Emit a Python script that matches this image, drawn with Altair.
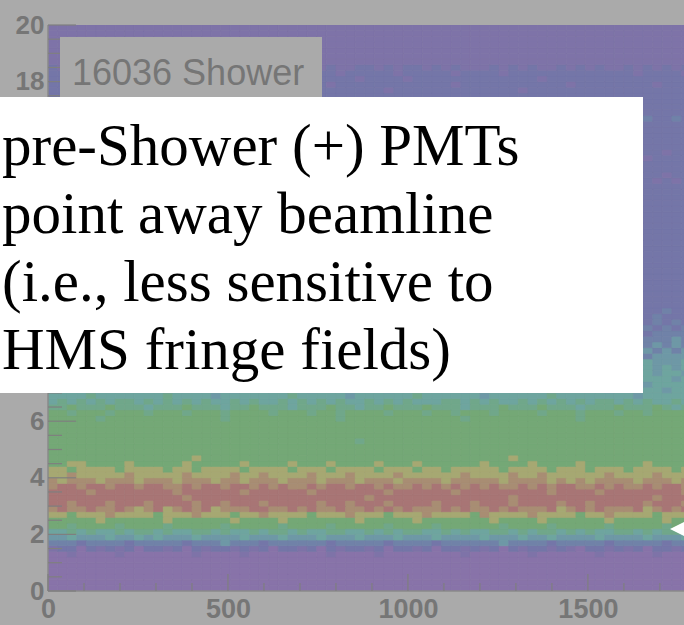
import altair as alt
import pandas as pd

# Histogram binning (ROOT-style 2D histogram: 75 x-bins over 0-2000, 0.2-wide y-bins)
X_BIN = 2000 / 75
Y_BIN = 0.2
X_MAX = 1767
Y_MAX = 20
N_COLS = 67

# Colour for each content level (washed-out rainbow palette, low -> high)
PALETTE = ['#8873a9', '#7e73a8', '#7476a8', '#7082a8', '#6e98a6', '#6ea59f',
           '#70a78a', '#74a876', '#a6a872', '#a88d73', '#a87575']


def flat(ch):
    return ch * N_COLS


# Level per cell, one string per y-bin, bottom (y=0) first; 'a' = 10
ROWS = [
    flat('0'), flat('0'), flat('0'), flat('0'), flat('0'), flat('0'),
    "0010000100 0000010000 1000000001 0000100000 0001000000 1000000100 0001000",
    "1220212120 2212021221 2120221202 1221202212 0221212021 2212102212 1202212",
    "3332333323 3333233343 3323333332 3333323333 2333333433 3323333323 3333233",
    "4454445445 4544454444 5444544454 4454445444 5444454445 4454444544 4454445",
    "5565655656 6565566565 5656656556 6556565665 5656556656 5665656556 6565665",
    "7767777677 7767777767 7777677776 7777767777 6777777677 7767777767 7777677",
    "7777787777 7787777778 7777877777 7787777787 7777778777 7877777787 7777877",
    "8878889888 8788898887 8898888788 8988878889 8888798888 9888878898 8887888",
    "9a99a99a98 9a89a9a899 9aa99a9a99 a99a9a9a99 9a9a99a9a9 99a89a9a99 9a89a9a",
    "aa9aaa9aaa 9aaaa9aa9a aa9aaaaa9a a9aaa9aaaa 9aaa9aaa9a aaa9aa9aaa aa9aaa9",
    "aaaaaaaaaa aaaa9aaaaa aaaaaaaaaa aaa9aaaaaa aaaaaaaa9a aaaaaaaaaa aaa9aaa",
    "aaaa9aaaaa aaa9aaaaaa 9aaaaaa9aa aaaaa9aaaa aa9aaaaaaa aa9aaaa9aa aaaaaa9",
    "9aa9aa9aa9 aa99a9aa9a a9a9a99a9a a9aa9a99a9 a9a9a9a99a 9a9aa99a9a 99a9aa9",
    "9899989998 9998999899 8999899989 9989998999 9899999899 9989898999 9899989",
    "8898888898 8888988889 8898888988 8988889888 8889888898 8988888898 8889888",
    "8878888788 8878878888 7888878887 8888788878 8788888788 8878887888 7888878",
    "7788777787 7777877777 8777787778 7777877787 7777787777 8777787777 7787777",
    "7777777777 7777787777 7777777777 7777777777 7777777787 7777777777 7777777",
    flat('7'), flat('7'),
    "7777777777 7777777777 7777777777 7767777777 7777777777 7777777777 7777777",
    flat('7'), flat('7'), flat('7'),
    "7777767777 7777777767 7777777777 6777777777 7776777777 7777767777 7777777",
    "7767776777 6777677767 7776777677 6777767776 7767776777 7677767776 7767777",
    "6676667666 5666766656 6766656667 6656676667 6665666766 6766656667 6667656",
    "5656565665 6565656556 5655656565 6556565655 5665656556 5656565665 6565565",
    "5555655555 5565555455 5555565555 5455555565 5555545555 5565555555 5455555",
    "5555455555 5545555554 5555555455 5555545555 5554555555 5545555545 5555455",
    "5545555545 5555455555 4555555545 5554555545 5555545555 5555455554 5545555",
    "5555545554 5545555455 5555454555 5545555554 5545555455 5555545455 5455545",
    "5455545545 4555455545 5545554554 5455455545 5455545554 5545455545 4554554",
    "4545454554 5454545445 4545545454 5445454545 4554545454 4545454554 5454545",
    "4544544454 4454445444 5444454445 4445444544 4454444544 4544454445 4454445",
    "4443444434 4444344443 4434444444 3444434444 4443444434 4443444443 4434444",
    "4434434443 4343443434 4434343443 4343434434 4343443434 4434434344 3443434",
    "3434343433 4343433434 3343434343 3434334343 4334343434 3434334343 4334343",
    "3343333433 3343333343 3334333343 3333433334 3343333433 3334333433 3433343",
    "3333323333 2333333233 3332333333 2333323333 3333233332 3333333233 3323333",
    "3323332333 3233323332 3323233323 3323332332 3233323323 3332332333 2332323",
    "2323232322 3232232323 2322323232 2323223232 3223232322 3232322323 2323232",
    "2232223222 2322232223 2223222322 2232222322 2322232222 3222322223 2223222",
    "2222322222 2222223222 2222222322 2222222223 2222232222 2222222322 2222322",
    flat('2'), flat('2'), flat('2'), flat('2'), flat('2'),
    flat('2'), flat('2'), flat('2'), flat('2'), flat('2'),
    flat('2'), flat('2'), flat('2'), flat('2'), flat('2'),
    flat('2'), flat('2'), flat('2'), flat('2'), flat('2'),
    flat('2'), flat('2'),
    "2222222222 2222222222 2222222222 2222222222 2222222222 2222222222 2221212",
    "2222222222 2222222222 2222222222 2222222222 2222222222 2222222222 2222122",
    "2222222222 2222222222 2222222222 2222222222 2222222222 2222222122 2222222",
    flat('2'),
    "2222222222 2222222222 2222222222 2222222222 2222222222 2222222222 2212222",
    "2222222222 2222222222 2222222222 2222222222 2222222222 2222222222 2122122",
    flat('2'), flat('2'), flat('2'), flat('2'), flat('2'),
    "2222222222 2222222222 2222222222 2222222222 2222222222 2222222222 2232232",
    flat('2'), flat('2'), flat('2'),
    "2222222222 2222222222 2222222222 2222222222 2222222222 2222222222 2222222",
    "2222222222 2222222222 2222222222 2222212222 2222222221 2222222222 2222222",
    "2222222222 2222222222 2222222221 2222222222 2212222222 2222122222 2221222",
    "2222222222 2222222222 2222222222 2212222122 2222222222 2122222222 2222222",
    "2222222212 2222222222 2222222222 1222221222 2212222122 2222222222 2122221",
    "2121212122 1212121212 2121211212 1122121221 2121112121 2112121211 2121212",
    flat('1'), flat('1'), flat('1'), flat('1'), flat('1'), flat('1'), flat('1'),
]

# Axis ticks; the labels from 8 to 16 sit under the note panel
Y_TICKS = [0, 2, 4, 6, 8, 10, 12, 14, 16, 18, 20]
Y_LABELS = [0, 2, 4, 6, 18, 20]
Y_MINOR = [v / 2 for v in range(1, 40) if v % 4 != 0]
X_LABELS = [0, 500, 1000, 1500]
X_MINOR = [v for v in range(100, 1800, 100) if v % 500 != 0]

TITLE = "16036  Shower"
NOTE = ["pre-Shower (+) PMTs",
        "point away beamline",
        "(i.e., less sensitive to",
        "HMS fringe fields)"]

W, H = 636, 566
GREY_TEXT = '#767676'
TICK = '#7f7f7f'
AXIS_LINE = '#8a8a8a'

cells = []
for r, row in enumerate(ROWS):
    row = row.replace(" ", "")
    for c, ch in enumerate(row):
        cells.append({
            "x0": c * X_BIN, "x1": (c + 1) * X_BIN,
            "y0": r * Y_BIN, "y1": (r + 1) * Y_BIN,
            "level": int(ch, 16),
        })
cells = pd.DataFrame(cells)

xs = alt.Scale(domain=[0, X_MAX], nice=False, zero=False)
ys = alt.Scale(domain=[0, Y_MAX], nice=False, zero=False)
level_scale = alt.Scale(domain=list(range(len(PALETTE))), range=PALETTE)

x_axis = alt.Axis(values=X_LABELS, title=None, grid=False, ticks=False, domain=False,
                  labelFontSize=27, labelFont="Liberation Sans", labelFontWeight="bold",
                  labelColor=GREY_TEXT, labelPadding=5, labelFlush=False, format="d")
y_axis = alt.Axis(values=Y_LABELS, title=None, grid=False, ticks=False, domain=False,
                  labelFontSize=26, labelFont="Liberation Sans", labelFontWeight="bold",
                  labelColor=GREY_TEXT, labelPadding=4, labelFlush=False, format="d")

heat = alt.Chart(cells).mark_rect(clip=True, strokeWidth=0.6).encode(
    x=alt.X("x0:Q", scale=xs, axis=x_axis),
    x2="x1:Q",
    y=alt.Y("y0:Q", scale=ys, axis=y_axis),
    y2="y1:Q",
    color=alt.Color("level:O", scale=level_scale, legend=None),
    stroke=alt.Stroke("level:O", scale=level_scale, legend=None),
)

one = pd.DataFrame({"k": [0]})

# Frame lines along the two axes
axis_lines = alt.layer(
    alt.Chart(one).mark_rule(color=AXIS_LINE, strokeWidth=1.5).encode(
        x=alt.value(0), x2=alt.value(W), y=alt.value(H)),
    alt.Chart(one).mark_rule(color=AXIS_LINE, strokeWidth=1.5).encode(
        x=alt.value(0), y=alt.value(0), y2=alt.value(H)),
)

# Inward tick marks, ROOT style
y_major = alt.Chart(pd.DataFrame({"v": Y_TICKS})).mark_rule(color=TICK, strokeWidth=1.2).encode(
    y=alt.Y("v:Q", scale=ys), x=alt.value(0), x2=alt.value(28))
y_minor = alt.Chart(pd.DataFrame({"v": Y_MINOR})).mark_rule(color=TICK, strokeWidth=1.2).encode(
    y=alt.Y("v:Q", scale=ys), x=alt.value(0), x2=alt.value(14))
x_major = alt.Chart(pd.DataFrame({"v": X_LABELS})).mark_rule(color=TICK, strokeWidth=1.2).encode(
    x=alt.X("v:Q", scale=xs), y=alt.value(H), y2=alt.value(H - 17))
x_minor = alt.Chart(pd.DataFrame({"v": X_MINOR})).mark_rule(color=TICK, strokeWidth=1.2).encode(
    x=alt.X("v:Q", scale=xs), y=alt.value(H), y2=alt.value(H - 8))

# Histogram title box
title_box = alt.Chart(one).mark_rect(color='#aaaaaa').encode(
    x=alt.value(12), x2=alt.value(274), y=alt.value(12), y2=alt.value(80))
title_text = alt.Chart(one).mark_text(
    align="left", baseline="alphabetic", fontSize=36, font="Liberation Sans",
    color=GREY_TEXT).encode(x=alt.value(24), y=alt.value(60), text=alt.value(TITLE))

# Note panel
note_box = alt.Chart(one).mark_rect(color='white').encode(
    x=alt.value(-48), x2=alt.value(595), y=alt.value(72), y2=alt.value(368))
note_text = alt.Chart(one).mark_text(
    align="left", baseline="alphabetic", fontSize=59, font="Liberation Serif",
    lineHeight=68, color='black').encode(
    x=alt.value(-46), y=alt.value(140), text=alt.value(NOTE))

# Wide left-pointing pointer at the right edge
marker = alt.Chart(one).mark_point(
    shape="M-1,0L1,-1L1,1Z", filled=True, color='white', opacity=1, size=3600).encode(
    x=alt.value(652), y=alt.value(504))

chart = alt.layer(
    heat, axis_lines, y_minor, y_major, x_minor, x_major,
    title_box, title_text, note_box, note_text, marker,
).properties(
    width=W, height=H,
    autosize=alt.AutoSizeParams(type="none"),
    padding={"left": 48, "top": 25, "right": 0, "bottom": 34},
    background='#aaaaaa',
).configure_view(stroke=None)

chart.save("out.html", embed_options={"renderer": "svg", "actions": False})
